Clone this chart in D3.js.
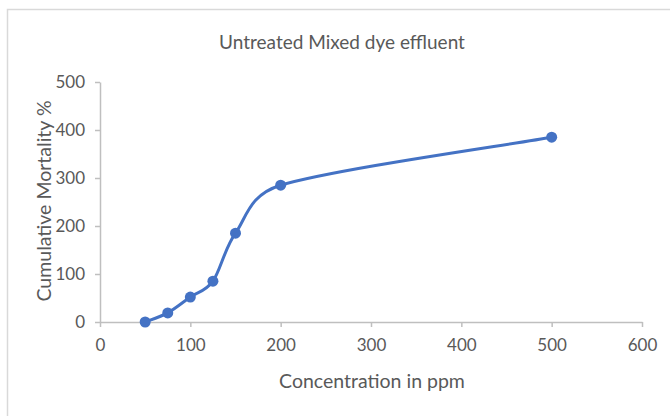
<!DOCTYPE html>
<html>
<head>
<meta charset="utf-8">
<script src="https://cdn.jsdelivr.net/npm/d3@7"></script>
<style>
  html, body { margin: 0; padding: 0; background: #fff; }
  svg text { font-family: Lato, "Open Sans", sans-serif; fill: #595959; }
</style>
</head>
<body>
<svg id="chart" width="670" height="416"></svg>
<script>
// Concentration (ppm) and cumulative mortality (%)
const concentration = [50, 75, 100, 125, 150, 200, 500];
const mortality = [0, 19, 52, 85, 185, 285, 385];
const xTicks = [0, 100, 200, 300, 400, 500, 600];
const yTicks = [0, 100, 200, 300, 400, 500];

const titleText = "Untreated Mixed dye effluent";
const xTitle = "Concentration in ppm";
const yTitle = "Cumulative Mortality %";

const svg = d3.select("#chart");
const margin = { left: 100, right: 28, top: 82, bottom: 94 };
const W = 670, H = 416;

// Spreadsheet-style smoothing: cubic Bezier with 1/6 tangents,
// control arms capped at half of the segment length.
function SmoothCurve(context) { this._context = context; }
SmoothCurve.prototype = {
  areaStart() { this._line = 0; },
  areaEnd() { this._line = NaN; },
  lineStart() { this._pts = []; },
  point(x, y) { this._pts.push([+x, +y]); },
  lineEnd() {
    const p = this._pts, c = this._context, n = p.length;
    if (!n) return;
    c.moveTo(p[0][0], p[0][1]);
    const dist = (a, b) => Math.hypot(b[0] - a[0], b[1] - a[1]);
    const f = 1 / 6;
    for (let i = 0; i < n - 1; i++) {
      const p0 = p[Math.max(i - 1, 0)], p1 = p[i], p2 = p[i + 1], p3 = p[Math.min(i + 2, n - 1)];
      const d12 = dist(p1, p2), d02 = dist(p0, p2), d13 = dist(p1, p3);
      let f1 = f, f2 = f;
      if (d02 * f > d12 / 2) f1 = d12 / (2 * d02);
      if (d13 * f > d12 / 2) f2 = d12 / (2 * d13);
      const b1 = [p1[0] + f1 * (p2[0] - p0[0]), p1[1] + f1 * (p2[1] - p0[1])];
      const b2 = [p2[0] - f2 * (p3[0] - p1[0]), p2[1] - f2 * (p3[1] - p1[1])];
      c.bezierCurveTo(b1[0], b1[1], b2[0], b2[1], p2[0], p2[1]);
    }
  }
};
const curveSmooth = context => new SmoothCurve(context);

// chart frame
svg.append("rect")
  .attr("x", 7.5).attr("y", 9.5)
  .attr("width", 700).attr("height", 450)
  .attr("fill", "#fff")
  .attr("stroke", "#d9d9d9").attr("stroke-width", 1.5);

const x = d3.scaleLinear().domain([0, 600]).range([margin.left, W - margin.right]);
const y = d3.scaleLinear().domain([0, 500]).range([H - margin.bottom, margin.top]);

// x axis
const xAxis = svg.append("g")
  .attr("transform", `translate(0,${y(0)})`)
  .call(d3.axisBottom(x).tickValues(xTicks).tickSize(5).tickPadding(12).tickSizeOuter(0));
// y axis
const yAxis = svg.append("g")
  .attr("transform", `translate(${x(0)},0)`)
  .call(d3.axisLeft(y).tickValues(yTicks).tickSize(5).tickPadding(10).tickSizeOuter(0));

[xAxis, yAxis].forEach(g => {
  g.select(".domain").attr("stroke", "#bfbfbf").attr("stroke-width", 1.5);
  g.selectAll(".tick line").attr("stroke", "#bfbfbf").attr("stroke-width", 1.5);
  g.selectAll(".tick text")
    .attr("font-size", 17)
    .style("font-family", "Lato, 'Open Sans', sans-serif")
    .attr("fill", "#595959");
});

// smoothed series line
const pts = concentration.map((c, i) => [c, mortality[i]]);
const line = d3.line()
  .x(d => x(d[0]))
  .y(d => y(d[1]))
  .curve(curveSmooth);

svg.append("path")
  .datum(pts)
  .attr("d", line)
  .attr("fill", "none")
  .attr("stroke", "#4472c4")
  .attr("stroke-width", 3)
  .attr("stroke-linejoin", "round");

svg.append("g").selectAll("circle")
  .data(pts)
  .join("circle")
  .attr("cx", d => x(d[0]))
  .attr("cy", d => y(d[1]))
  .attr("r", 5.5)
  .attr("fill", "#4472c4");

// titles
svg.append("text")
  .attr("x", 342).attr("y", 49)
  .attr("text-anchor", "middle")
  .attr("font-size", 19)
  .text(titleText);

svg.append("text")
  .attr("x", 372).attr("y", 388)
  .attr("text-anchor", "middle")
  .attr("font-size", 19.5)
  .text(xTitle);

svg.append("text")
  .attr("transform", `translate(51,${y(250) - 1}) rotate(-90)`)
  .attr("text-anchor", "middle")
  .attr("font-size", 19.5)
  .text(yTitle);
</script>
</body>
</html>
